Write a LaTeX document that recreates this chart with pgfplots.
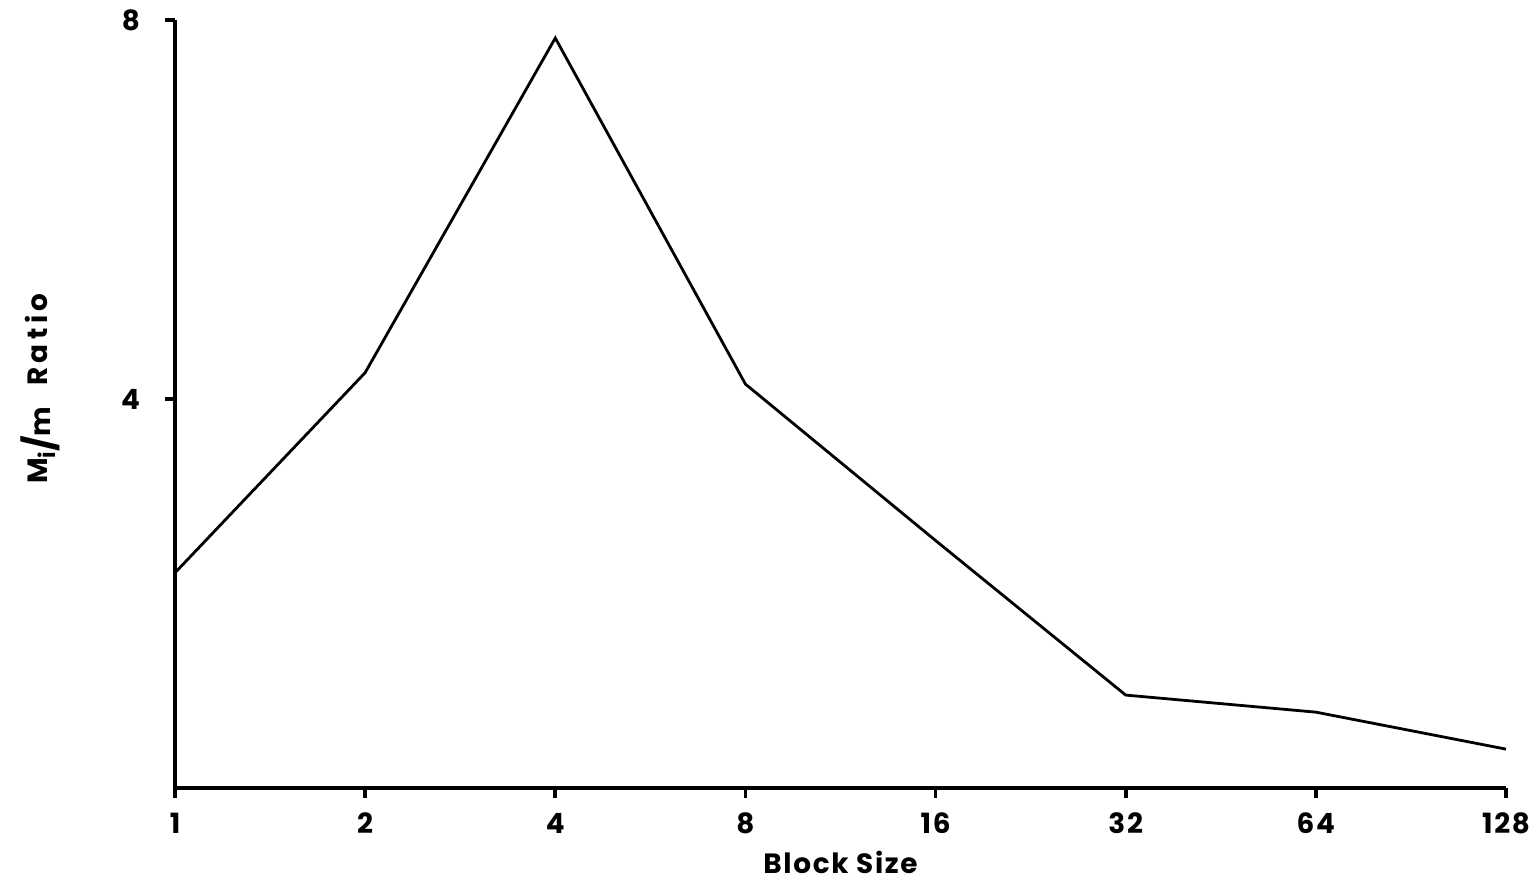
\documentclass[border=0pt]{standalone}
\usepackage{fontspec}
\setmainfont{Poppins}[LetterSpace=6]
\newfontfamily\ylabfont{Poppins}[LetterSpace=16]
\usepackage{pgfplots}
\pgfplotsset{compat=1.18}
\begin{document}
\begin{tikzpicture}[x=1bp,y=1bp]
\path[use as bounding box] (-87.5bp,-47bp) rectangle (682.5bp,394bp);
\begin{axis}[
  at={(0,0)}, anchor=south west,
  scale only axis,
  width=665.5bp, height=384bp,
  xmode=log, log basis x=2,
  xmin=1, xmax=128,
  ymin=-0.1, ymax=8,
  axis x line*=bottom, axis y line*=left,
  axis line style={line width=1.8bp, -},
  xtick={1,2,4,8,16,32,64,128},
  xticklabels={1,2,4,8,16,32,64,128},
  ytick={4,8}, yticklabels={4,8},
  tick align=outside,
  major tick length=5bp,
  tick style={line width=1.8bp, black},
  /pgf/number format/assume math mode=true,
  ticklabel style={font=\fontsize{14}{16}\selectfont\bfseries},
  xticklabel style={yshift=-4bp},
  yticklabel style={xshift=-9bp},
  xlabel={Block Size},
  ylabel={M\raisebox{-0.3em}{\fontsize{11}{12}\selectfont i}\raisebox{-0.2em}{\LARGE/}\raisebox{-0.1em}{m}\ \ Ratio},
  every axis x label/.style={at={(axis description cs:0.5,0)}, anchor=center, yshift=-37bp, font=\fontsize{14}{16}\selectfont\bfseries},
  every axis y label/.style={at={(axis description cs:0,0.52)}, anchor=center, xshift=-67.5bp, rotate=90, font=\ylabfont\fontsize{14}{16}\selectfont\bfseries},
]
\addplot[black, line width=1.4bp] coordinates {
  (1,2.17) (2,4.28) (4,7.81) (8,4.16) (16,2.51) (32,0.88) (64,0.70) (128,0.31)
};
\end{axis}
\end{tikzpicture}
\end{document}
